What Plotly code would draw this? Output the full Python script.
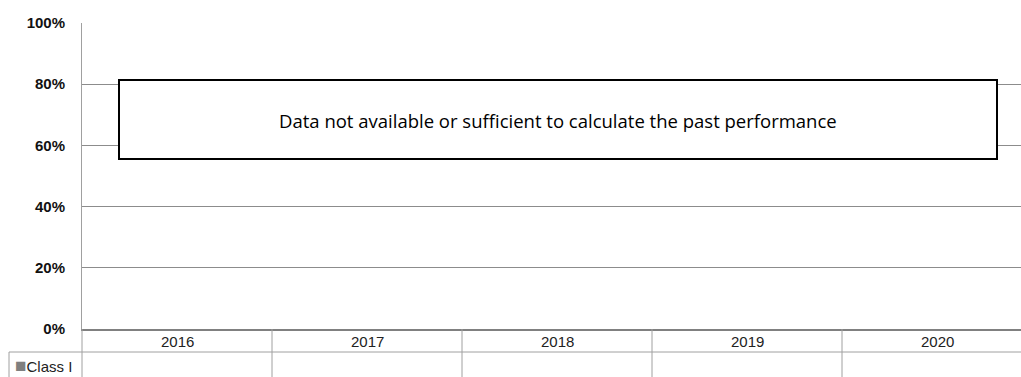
import plotly.graph_objects as go

years = ["2016", "2017", "2018", "2019", "2020"]
class_i = [None, None, None, None, None]
series_name = "Class I"
y_ticks = [0, 0.2, 0.4, 0.6, 0.8, 1.0]
y_tick_labels = ["0%", "20%", "40%", "60%", "80%", "100%"]
message = "Data not available or sufficient to calculate the past performance"

W, H = 1021, 377
L, R, T, B = 82, 0, 23, 48
plot_h = H - T - B
grid_col = "#8c8c8c"
table_col = "#a0a0a0"

xs = list(range(len(years)))
fig = go.Figure()
fig.add_trace(go.Bar(x=xs, y=class_i, name=series_name, marker_color="#7f7f7f", showlegend=False))

def py(px_from_axis):
    # pixels below x axis -> paper y
    return -px_from_axis / plot_h

cell_left = -(L - 9) / (W - L - R)
shapes = []
# table horizontal line under the year row
shapes.append(dict(type="line", xref="paper", yref="paper", x0=cell_left, x1=1, y0=py(23), y1=py(23),
                   line=dict(color=table_col, width=1)))
# table vertical lines between categories
for i in range(len(years)):
    shapes.append(dict(type="line", xref="x", yref="paper", x0=i + 0.5, x1=i + 0.5, y0=0, y1=py(48),
                       line=dict(color=table_col, width=1)))
# left axis extension into table
shapes.append(dict(type="line", xref="paper", yref="paper", x0=0, x1=0, y0=0, y1=py(48),
                   line=dict(color=table_col, width=1)))
# left border of series label cell
shapes.append(dict(type="line", xref="paper", yref="paper", x0=cell_left, x1=cell_left,
                   y0=py(23), y1=py(48), line=dict(color=table_col, width=1)))
# message box
shapes.append(dict(type="rect", xref="paper", yref="paper", x0=(119 - L) / (W - L), x1=(997 - L) / (W - L),
                   y0=(H - B - 159) / plot_h, y1=(H - B - 80) / plot_h,
                   line=dict(color="black", width=2), fillcolor="white", layer="above"))

annotations = []
for i, yr in enumerate(years):
    annotations.append(dict(x=i, y=py(12), xref="x", yref="paper", text=yr, showarrow=False,
                            font=dict(family="Liberation Sans, Arial", size=15, color="#222"),
                            xanchor="center", yanchor="middle"))
annotations.append(dict(x=-(L - 13) / (W - L), y=py(36), xref="paper", yref="paper",
                        text="<span style='color:#7f7f7f;font-size:19px'>■</span>" + series_name, showarrow=False,
                        font=dict(family="Liberation Sans, Arial", size=15, color="#222"),
                        xanchor="left", yanchor="middle"))
annotations.append(dict(x=(558 - L) / (W - L), y=(H - B - 120) / plot_h, xref="paper", yref="paper",
                        text=message, showarrow=False,
                        font=dict(family="Open Sans, sans-serif", size=18.5, color="black"),
                        xanchor="center", yanchor="middle"))

fig.update_layout(
    width=W, height=H,
    margin=dict(l=L, r=R, t=T, b=B, pad=0, autoexpand=False),
    paper_bgcolor="white", plot_bgcolor="white",
    shapes=shapes, annotations=annotations,
    xaxis=dict(range=[-0.5, -0.5 + (W - L - R) / 190], showticklabels=False, showgrid=False, zeroline=False,
               showline=True, linecolor="#808080", linewidth=2, ticks="", fixedrange=True),
    yaxis=dict(range=[0, 1], tickvals=y_ticks, ticktext=y_tick_labels, showgrid=True, gridcolor=grid_col,
               gridwidth=1, zeroline=False, showline=True, linecolor=table_col, linewidth=1, ticks="",
               ticklabelstandoff=13, automargin=False,
               tickfont=dict(family="Liberation Sans, Arial", size=15, color="#111", weight="bold")),
)
fig.write_html("out.html", config={"displayModeBar": False},
               post_script="document.body.style.margin='0';document.body.style.overflow='hidden';")
